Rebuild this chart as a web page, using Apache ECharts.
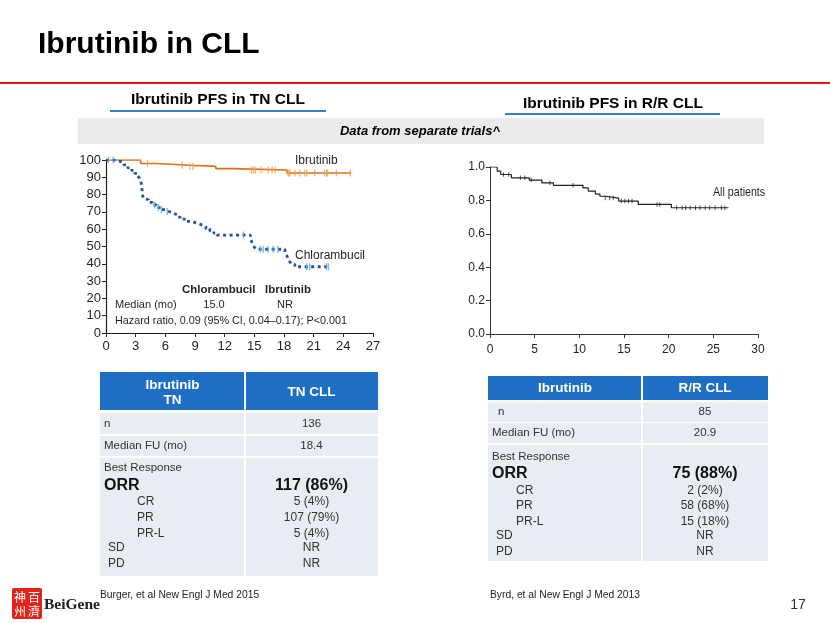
<!DOCTYPE html>
<html><head><meta charset="utf-8">
<script src="https://cdn.jsdelivr.net/npm/echarts@6/dist/echarts.min.js"></script>
<style>html,body{margin:0;padding:0;background:#fff}#c{width:830px;height:623px}</style>
</head><body><div id="c"></div>
<script>
// ---------- DATA ----------
const tnXTicks = [0,3,6,9,12,15,18,21,24,27];
const tnYTicks = [0,10,20,30,40,50,60,70,80,90,100];
const tnIbrutinib = [[0,100],[3.5,98],[5.1,97],[8.5,96.3],[11.1,95],[12.8,94.2],[18.3,92.5],[24.8,92.5]];
const tnIbrutinibCensor = [4.2,7.7,8.5,8.8,14.7,14.9,15.1,15.7,16.4,16.8,17.1,18.4,18.5,18.6,19.1,19.6,20.1,20.3,21.1,22.1,22.3,22.4,23.3,24.7];
const tnChlorambucil = [[0,100],[0.8,99.4],[1.3,98.5],[1.8,97.2],[2.2,95.5],[2.6,94],[2.9,92.3],[3.2,91],[3.4,89.4],[3.55,87],[3.62,84],[3.68,81],[3.75,78],[3.85,77],[4.3,75.5],[4.7,74],[5.1,72.5],[5.6,71.3],[6.0,70.2],[6.4,69.3],[6.8,68.2],[7.2,67],[7.5,65.8],[8.1,64.5],[8.7,63.4],[9.2,62.5],[9.7,61.4],[10.1,60.2],[10.5,59],[10.9,57.8],[11.2,56.6],[14.6,54.5],[14.75,52.5],[14.9,51],[15.0,49.6],[15.2,48.4],[18.1,46.5],[18.3,44.5],[18.45,42.5],[18.6,41],[18.8,39.6],[19.1,38.3],[22.6,38.3]];
const tnChlorambucilCensor = [0.25,0.75,4.9,5.3,5.6,6.2,13.9,15.6,15.9,16.4,16.9,17.4,20.3,20.6,22.3,22.5];

const rrXTicks = [0,5,10,15,20,25,30];
const rrYTicks = [0,0.2,0.4,0.6,0.8,1.0];
const rrAll = [[0,1.0],[0.8,0.975],[1.2,0.955],[2.4,0.935],[4.4,0.922],[5.8,0.905],[7.1,0.89],[10.4,0.875],[11.0,0.856],[11.8,0.838],[12.3,0.825],[12.9,0.814],[14.4,0.796],[16.6,0.776],[20.3,0.756],[26.7,0.756]];
const rrCensor = [1.5,2.1,3.4,3.9,4.6,6.7,9.3,12.9,13.4,13.8,14.7,15.1,15.5,15.9,18.7,19.0,20.9,21.5,21.9,22.4,23.0,23.5,24.1,24.6,25.2,25.9,26.3];

const tnHeader = ['Ibrutinib', 'TN', 'TN CLL'];
const tnRows = [['n','136'],['Median FU (mo)','18.4']];
const tnResponse = [['ORR','117 (86%)'],['CR','5 (4%)'],['PR','107 (79%)'],['PR-L','5 (4%)'],['SD','NR'],['PD','NR']];
const rrHeader = ['Ibrutinib', 'R/R CLL'];
const rrRows = [['n','85'],['Median FU (mo)','20.9']];
const rrResponse = [['ORR','75 (88%)'],['CR','2 (2%)'],['PR','58 (68%)'],['PR-L','15 (18%)'],['SD','NR'],['PD','NR']];

// ---------- HELPERS ----------
function survAt(curve, t){ let v = curve[0][1]; for (const p of curve){ if (p[0] <= t) v = p[1]; } return v; }
function censorPts(curve, times){ return times.map(t => [t, survAt(curve, t)]); }
function txt(text, x, y, font, fill, align, va){
  return {type:'text', silent:true, style:{text, x, y, font, fill: fill||'#333', align: align||'left', textAlign: align||'left', verticalAlign: va||'middle', textVerticalAlign: va||'middle'}};
}
function rect(x, y, w, h, fill){ return {type:'rect', silent:true, shape:{x, y, width:w, height:h}, style:{fill}}; }

const AR = '"Liberation Sans", Arial, sans-serif';
const HEAD = '#1e6fc4', CELL = '#e8ecf3';

function table(g, hdr, rows, resp){
  const els = [];
  els.push(rect(g.x0, g.h0, g.xd - g.x0 - 1, g.h1 - g.h0, HEAD));
  els.push(rect(g.xd + 1, g.h0, g.x1 - g.xd - 1, g.h1 - g.h0, HEAD));
  const cL = (g.x0 + g.xd) / 2, cR = (g.xd + g.x1) / 2;
  const hf = 'bold 13.5px ' + AR;
  if (hdr.length === 3){
    els.push(txt(hdr[0], cL, g.hy[0], hf, '#fff', 'center'));
    els.push(txt(hdr[1], cL, g.hy[1], hf, '#fff', 'center'));
    els.push(txt(hdr[2], cR, g.hy[2], hf, '#fff', 'center'));
  } else {
    els.push(txt(hdr[0], cL, g.hy[0], hf, '#fff', 'center'));
    els.push(txt(hdr[1], cR, g.hy[0], hf, '#fff', 'center'));
  }
  const bf = '11.5px ' + AR;
  rows.forEach((r, i) => {
    const [a, b] = g.rows[i];
    els.push(rect(g.x0, a, g.xd - g.x0 - 1, b - a, CELL));
    els.push(rect(g.xd + 1, a, g.x1 - g.xd - 1, b - a, CELL));
    els.push(txt(r[0], g.rowLx[i], (a + b) / 2, bf, '#333'));
    els.push(txt(r[1], cR, (a + b) / 2, bf, '#333', 'center'));
  });
  els.push(rect(g.x0, g.b0, g.xd - g.x0 - 1, g.b1 - g.b0, CELL));
  els.push(rect(g.xd + 1, g.b0, g.x1 - g.xd - 1, g.b1 - g.b0, CELL));
  els.push(txt('Best Response', g.lx, g.by[0], bf, '#333'));
  resp.forEach((r, i) => {
    const y = g.by[i + 1];
    if (i === 0){
      els.push(txt(r[0], g.lx, y, 'bold 16px ' + AR, '#111'));
      els.push(txt(r[1], cR, y, 'bold 16px ' + AR, '#111', 'center'));
    } else {
      const lx = i <= 3 ? g.subx : g.sdx;
      els.push(txt(r[0], lx, y, '12px ' + AR, '#333'));
      els.push(txt(r[1], cR, y, '12px ' + AR, '#333', 'center'));
    }
  });
  return els;
}

const tnTable = table({x0:100, x1:378, xd:245, h0:372, h1:410, hy:[385,400,392],
  rows:[[413,434],[436,456]], rowLx:[104,104], b0:458, b1:576,
  by:[468,486,502,518,534,548,564], lx:104, subx:137, sdx:108}, tnHeader, tnRows, tnResponse);
const rrTable = table({x0:488, x1:768, xd:642, h0:376, h1:400, hy:[388],
  rows:[[402,422],[423,443]], rowLx:[498,492], b0:445, b1:561,
  by:[457,474,491,506,522,536,552], lx:492, subx:516, sdx:496}, rrHeader, rrRows, rrResponse);

const kmFont = '11px ' + AR;
const allPatients = {type:'text', silent:true, x:713, y:192, scaleX:0.82,
  style:{text:'All patients', x:0, y:0, font:'13px ' + AR, fill:'#231f20', align:'left', textAlign:'left', verticalAlign:'middle', textVerticalAlign:'middle'}};
const graphics = [
  txt('Ibrutinib in CLL', 38, 45, 'bold 30px ' + AR, '#000'),
  {type:'line', silent:true, shape:{x1:0, y1:83, x2:830, y2:83}, style:{stroke:'#e5141b', lineWidth:2.2}},
  txt('Ibrutinib PFS in TN CLL', 218, 100, 'bold 15.5px ' + AR, '#000', 'center'),
  {type:'line', silent:true, shape:{x1:110, y1:111, x2:326, y2:111}, style:{stroke:'#3a80c8', lineWidth:2}},
  txt('Ibrutinib PFS in R/R CLL', 613, 104, 'bold 15.5px ' + AR, '#000', 'center'),
  {type:'line', silent:true, shape:{x1:505, y1:114, x2:720, y2:114}, style:{stroke:'#3a80c8', lineWidth:2}},
  rect(78, 118, 686, 26, '#ebebeb'),
  txt('Data from separate trials^', 420, 131, 'italic bold 13px ' + AR, '#000', 'center'),
  // left KM annotations
  txt('Ibrutinib', 295, 161, '12px ' + AR, '#231f20'),
  txt('Chlorambucil', 295, 256, '12px ' + AR, '#231f20'),
  txt('Chlorambucil', 182, 290, 'bold 11.5px ' + AR, '#231f20'),
  txt('Ibrutinib', 265, 290, 'bold 11.5px ' + AR, '#231f20'),
  txt('Median (mo)', 115, 305, kmFont, '#231f20'),
  txt('15.0', 214, 305, kmFont, '#231f20', 'center'),
  txt('NR', 285, 305, kmFont, '#231f20', 'center'),
  txt('Hazard ratio, 0.09 (95% CI, 0.04\u20130.17); P<0.001', 115, 321, '10.8px ' + AR, '#231f20'),
  allPatients,
  ...tnTable, ...rrTable,
  txt('Burger, et al New Engl J Med 2015', 100, 595, '10.3px ' + AR, '#222'),
  txt('Byrd, et al New Engl J Med 2013', 490, 595, '10.3px ' + AR, '#222'),
  txt('17', 798, 605, '14px ' + AR, '#333', 'center'),
  // logo
  {type:'rect', silent:true, shape:{x:12, y:588, width:30, height:31, r:2}, style:{fill:'#e1251b'}},
  txt('百', 34, 597, '12px "Noto Sans CJK TC"', '#fff', 'center'),
  txt('濟', 34, 611, '12px "Noto Sans CJK TC"', '#fff', 'center'),
  txt('神', 20, 597, '12px "Noto Sans CJK TC"', '#fff', 'center'),
  txt('州', 20, 611, '12px "Noto Sans CJK TC"', '#fff', 'center'),
  txt('BeiGene', 44, 605, 'bold 15.5px "Liberation Serif", serif', '#222')
];

const axisCol = '#231f20';
const option = {
  animation: false,
  grid: [
    {left:106, top:160, width:267, height:173},
    {left:490, top:167, width:268, height:167}
  ],
  xAxis: [
    {type:'value', gridIndex:0, min:tnXTicks[0], max:tnXTicks[tnXTicks.length-1], interval:tnXTicks[1]-tnXTicks[0],
     axisLine:{show:true, onZero:false, lineStyle:{color:axisCol, width:1.2}}, axisTick:{show:true, length:4, lineStyle:{color:axisCol}},
     splitLine:{show:false}, axisLabel:{show:true, margin:7, fontSize:13, color:axisCol, fontFamily:'Liberation Sans', showMinLabel:true, showMaxLabel:true}},
    {type:'value', gridIndex:1, min:rrXTicks[0], max:rrXTicks[rrXTicks.length-1], interval:rrXTicks[1]-rrXTicks[0],
     axisLine:{show:true, onZero:false, lineStyle:{color:'#333', width:1}}, axisTick:{show:true, length:4, lineStyle:{color:'#333'}},
     splitLine:{show:false}, axisLabel:{show:true, margin:10, fontSize:12, color:axisCol, fontFamily:'Liberation Sans', showMinLabel:true, showMaxLabel:true}}
  ],
  yAxis: [
    {type:'value', gridIndex:0, min:tnYTicks[0], max:tnYTicks[tnYTicks.length-1], interval:tnYTicks[1]-tnYTicks[0],
     axisLine:{show:true, onZero:false, lineStyle:{color:axisCol, width:1.2}}, axisTick:{show:true, length:4, lineStyle:{color:axisCol}},
     splitLine:{show:false}, axisLabel:{show:true, margin:5, fontSize:13, color:axisCol, fontFamily:'Liberation Sans', showMinLabel:true, showMaxLabel:true}},
    {type:'value', gridIndex:1, min:rrYTicks[0], max:rrYTicks[rrYTicks.length-1], interval:0.2,
     axisLine:{show:true, onZero:false, lineStyle:{color:'#333', width:1}}, axisTick:{show:true, length:4, lineStyle:{color:'#333'}},
     splitLine:{show:false}, axisLabel:{show:true, margin:5, fontSize:12, color:axisCol, fontFamily:'Liberation Sans', formatter: v => v.toFixed(1), showMinLabel:true, showMaxLabel:true}}
  ],
  series: [
    {type:'line', xAxisIndex:0, yAxisIndex:0, data:tnIbrutinib, step:'end', symbol:'none', lineStyle:{color:'#d6731e', width:1.6}, z:3},
    {type:'scatter', xAxisIndex:0, yAxisIndex:0, data:censorPts(tnIbrutinib, tnIbrutinibCensor), symbol:'rect', symbolSize:[1.4,7], itemStyle:{color:'#f0a050'}, z:4},
    {type:'line', xAxisIndex:0, yAxisIndex:0, data:tnChlorambucil, step:'end', symbol:'none', lineStyle:{color:'#1f5597', width:2.8, type:[3,3.5]}, z:3},
    {type:'scatter', xAxisIndex:0, yAxisIndex:0, data:censorPts(tnChlorambucil, tnChlorambucilCensor), symbol:'rect', symbolSize:[1.4,7], itemStyle:{color:'#5aaae8'}, z:4},
    {type:'line', xAxisIndex:1, yAxisIndex:1, data:rrAll, step:'end', symbol:'none', lineStyle:{color:'#222', width:1.2}, z:3},
    {type:'scatter', xAxisIndex:1, yAxisIndex:1, data:censorPts(rrAll, rrCensor), symbol:'rect', symbolSize:[1,4.5], itemStyle:{color:'#222'}, z:4}
  ],
  graphic: graphics
};
const chart = echarts.init(document.getElementById('c'), null, {renderer:'canvas'});
chart.setOption(option);
</script></body></html>
